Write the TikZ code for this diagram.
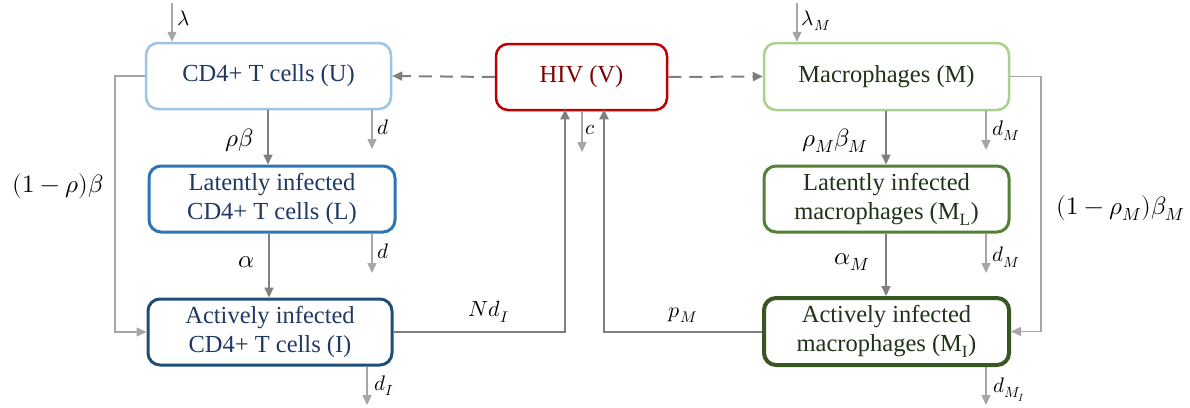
\documentclass[tikz,border=0pt]{standalone}
\usepackage{fontspec}
\usepackage{unicode-math}
\setmainfont{Liberation Serif}
\setmathfont{Latin Modern Math}
\usetikzlibrary{arrows.meta}
\definecolor{uborder}{HTML}{9DC3E6}
\definecolor{lborder}{HTML}{2E75B6}
\definecolor{iborder}{HTML}{1F4E79}
\definecolor{celltext}{HTML}{1F3864}
\definecolor{hivborder}{HTML}{C00000}
\definecolor{hivtext}{HTML}{7F0000}
\definecolor{mborder}{HTML}{A9D18E}
\definecolor{mlborder}{HTML}{538135}
\definecolor{miborder}{HTML}{385723}
\definecolor{mtext}{HTML}{1E3317}
\definecolor{lightflow}{HTML}{A6A6A6}
\definecolor{darkflow}{HTML}{7F7F7F}
\tikzset{
  cell/.style={draw, rounded corners=12pt, fill=white, align=center,
    minimum width=245pt, minimum height=66pt, inner sep=2pt,
    font=\fontsize{24.5}{29}\selectfont},
  tip/.style={-{Triangle[length=10pt,width=9pt]}},
  light/.style={tip, draw=lightflow, line width=1.5pt},
  lightline/.style={draw=lightflow, line width=1.5pt},
  dark/.style={tip, draw=darkflow, line width=2pt},
  darkdash/.style={dark, dash pattern=on 13pt off 8pt},
  small/.style={font=\fontsize{21}{23}\selectfont, inner sep=0pt},
  mid/.style={font=\fontsize{22}{25}\selectfont, inner sep=0pt},
  big/.style={font=\fontsize{25}{28}\selectfont, inner sep=0pt}
}
\begin{document}
\begin{tikzpicture}[x=1pt,y=-1pt]
\useasboundingbox (0,0) rectangle (1190,407);

% compartments
\node[cell, draw=uborder, line width=2.5pt, text=celltext] (U) at (268.5,76) {CD4+ T cells (U)};
\node[cell, draw=lborder, line width=3pt, text=celltext, minimum width=246pt] (L) at (272,199) {Latently infected\\CD4+ T cells (L)};
\node[cell, draw=iborder, line width=3pt, text=celltext, minimum width=244pt] (I) at (270,332) {Actively infected\\CD4+ T cells (I)};
\node[cell, draw=hivborder, line width=2.5pt, text=hivtext, minimum width=171pt] (V) at (581.5,77) {HIV (V)};
\node[cell, draw=mborder, line width=2.5pt, text=mtext, minimum height=67pt] (M) at (886.5,76.5) {Macrophages (M)};
\node[cell, draw=mlborder, line width=3pt, text=mtext] (ML) at (886.5,199) {Latently infected\\macrophages (M\textsubscript{L})};
\node[cell, draw=miborder, line width=4pt, text=mtext, minimum height=67pt] (MI) at (886.5,331.5) {Actively infected\\macrophages (M\textsubscript{I})};

% free ends of source and decay flows
\coordinate (lamU) at (172,3);
\coordinate (lamM) at (797,3);
\coordinate (dU) at (372,149);
\coordinate (dL) at (372,273);
\coordinate (dI) at (367,405);
\coordinate (cV) at (582,152);
\coordinate (dM) at (986,150);
\coordinate (dML) at (986,273);
\coordinate (dMI) at (986,405);
\coordinate (loopL) at (115,0);
\coordinate (loopR) at (1041,0);
\coordinate (upL) at (565,0);
\coordinate (upR) at (604,0);

% sources
\draw[light] (lamU) -- (lamU |- U.north)
  node[small, pos=0.4, right=5pt] (lamlab) {$\lambda$};
\draw[light] (lamM) -- (lamM |- M.north)
  node[small, pos=0.45, right=4pt] (lamMlab) {$\lambda_M$};

% decays
\draw[light] (dU |- U.south) -- (dU) node[small, pos=0.45, right=5pt] (dUlab) {$d$};
\draw[light] (dL |- L.south) -- (dL) node[small, pos=0.45, right=5pt] (dLlab) {$d$};
\draw[light] (dI |- I.south) -- (dI) node[small, pos=0.5, right=7pt] (dIlab) {$d_I$};
\draw[light] (cV |- V.south) -- (cV) node[small, pos=0.45, right=3pt] (clab) {$c$};
\draw[light] (dM |- M.south) -- (dM) node[small, pos=0.5, right=6pt] (dMlab) {$d_M$};
\draw[light] (dML |- ML.south) -- (dML) node[small, pos=0.6, right=6pt] (dMLlab) {$d_M$};
\draw[light] (dMI |- MI.south) -- (dMI) node[small, pos=0.6, right=7pt] (dMIlab) {$d_{M_I}$};

% progression within the T-cell and macrophage columns
\draw[dark] (U.south -| 268,0) -- (L.north -| 268,0)
  node[big, pos=0.55, left=13pt] (rblab) {$\rho\beta$};
\draw[dark] (L.south -| 269,0) -- (I.north -| 269,0)
  node[big, pos=0.45, left=14pt] (alab) {$\alpha$};
\draw[dark] (M.south -| 886,0) -- (ML.north -| 886,0)
  node[big, pos=0.55, left=17pt] (rbMlab) {$\rho_M\beta_M$};
\draw[dark] (ML.south -| 886,0) -- (MI.north -| 886,0)
  node[big, pos=0.45, left=15pt] (aMlab) {$\alpha_M$};

% direct activation bypassing latency
\draw[lightline, tip] (U.west) -- (U.west -| loopL) -- (I.west -| loopL) -- (I.west);
\node[big] (bypassL) at (58,186) {$(1-\rho)\beta$};
\draw[lightline, tip] (M.east) -- (M.east -| loopR) -- (MI.east -| loopR) -- (MI.east);
\node[big] (bypassR) at (1121,208) {$(1-\rho_M)\beta_M$};

% infection by free virus
\draw[darkdash] (V.west) -- (U.east);
\draw[darkdash] (V.east) -- (M.west);

% virus production
\draw[dark] (I.east) -- (I.east -| upL) -- ([yshift=2pt]upL |- V.south);
\node[mid] (prodI) at (489,312) {$N d_I$};
\draw[dark] (MI.west) -- (MI.west -| upR) -- ([yshift=2pt]upR |- V.south);
\node[mid] (prodM) at (683,315) {$p_M$};
\end{tikzpicture}
\end{document}
